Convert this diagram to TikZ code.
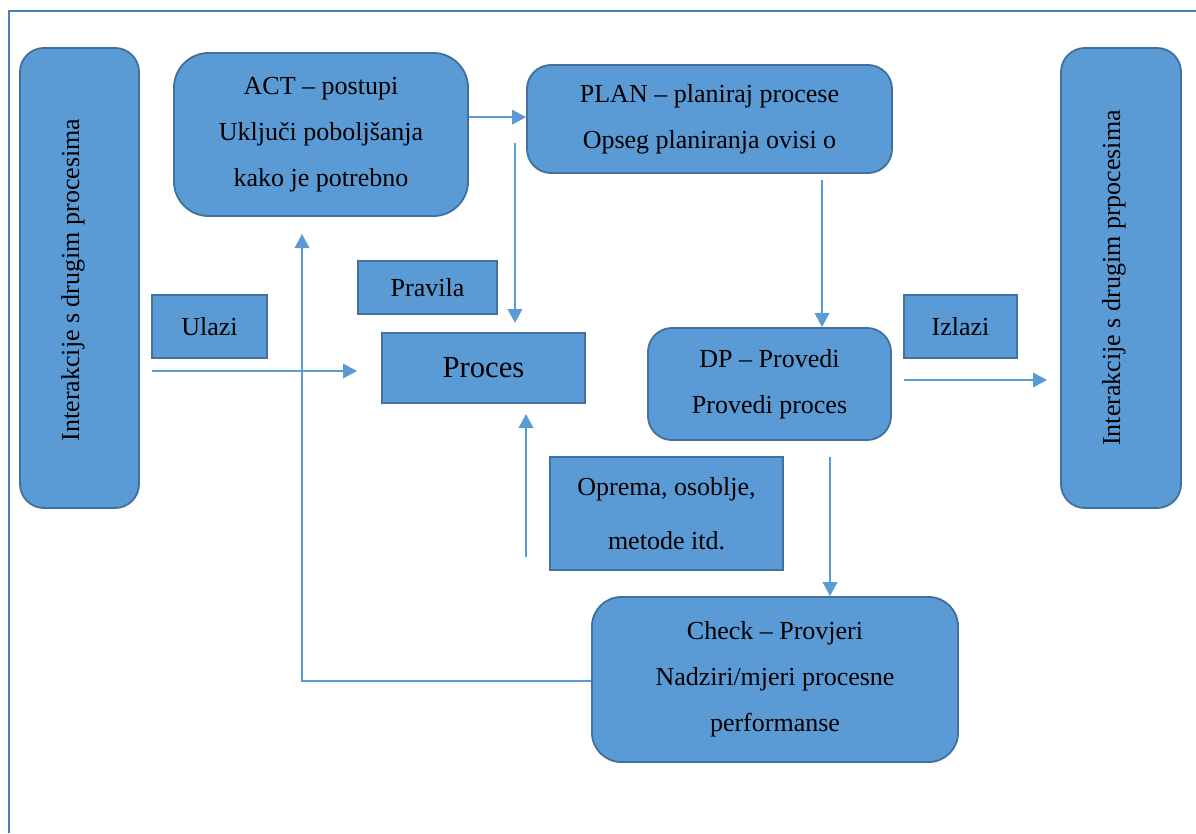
\documentclass[tikz,border=0pt]{standalone}
\usepackage{fontspec}
\setmainfont{Liberation Serif}
\usetikzlibrary{arrows.meta,calc}
\definecolor{boxfill}{HTML}{5B9BD5}
\definecolor{boxedge}{HTML}{41719C}
\definecolor{frameblue}{HTML}{4A7EBB}
\tikzset{
  box/.style={draw=boxedge,fill=boxfill,line width=1.4pt,inner sep=0pt,align=center,
    font=\fontsize{19.5}{34.5}\selectfont},
  rbox/.style={box,rounded corners=18pt},
  vtext/.style={rotate=90,inner sep=0pt,font=\fontsize{19.5}{24}\selectfont},
  arr/.style={draw=boxfill,line width=1.1pt,-{Triangle[width=11pt,length=10.5pt]}},
  link/.style={draw=boxfill,line width=1.1pt},
}
\begin{document}
\begin{tikzpicture}[x=0.75pt,y=-0.75pt]
\useasboundingbox (0,0) rectangle (1196,833);
% frame (top and left edges)
\draw[frameblue,line width=2.2pt] (9,833) -- (9,11) -- (1196,11);

% side boxes
\node[rbox,minimum width=89.25pt,minimum height=345pt] (L) at (79.5,278) {};
\node[vtext] (Ltext) at (73,280) {Interakcije s drugim procesima};
\node[rbox,minimum width=90pt,minimum height=345pt] (R) at (1121,278) {};
\node[vtext] (Rtext) at (1114,278) {Interakcije s drugim prpocesima};

% main boxes
\node[box,rounded corners=26pt,minimum width=220.5pt,minimum height=122.25pt] (ACT) at (321,134.5)
  {ACT -- postupi\\Uključi poboljšanja\\kako je potrebno};
\node[rbox,minimum width=273.75pt,minimum height=81pt] (PLAN) at (709.5,119)
  {PLAN -- planiraj procese\\Opseg planiranja ovisi o};
\node[box,minimum width=104.25pt,minimum height=39.75pt] (Pravila) at (427.5,287.5) {Pravila};
\node[box,minimum width=86.25pt,minimum height=47.25pt] (Ulazi) at (209.5,326.5) {Ulazi};
\node[box,minimum width=152.25pt,minimum height=52.5pt,font=\fontsize{23}{28}\selectfont] (Proces) at (483.5,368) {Proces};
\node[rbox,minimum width=182.25pt,minimum height=84pt] (DP) at (769.5,384)
  {DP -- Provedi\\Provedi proces};
\node[box,minimum width=84.75pt,minimum height=47.25pt] (Izlazi) at (960.5,326.5) {Izlazi};
\node[box,minimum width=174.75pt,minimum height=84.75pt,font=\fontsize{19.5}{40.5}\selectfont] (Oprema) at (666.5,513.5)
  {Oprema, osoblje,\\metode itd.};
\node[box,rounded corners=22pt,minimum width=274.5pt,minimum height=123.75pt] (Check) at (775,679.5)
  {Check -- Provjeri\\Nadziri/mjeri procesne\\performanse};

% free ends
\coordinate (inS) at (152,371);
\coordinate (inE) at (357,371);
\coordinate (fbC) at (302,681);
\coordinate (fbE) at (302,234);
\coordinate (plS) at (515,143);
\coordinate (plE) at (515,323);
\coordinate (pdS) at (822,180);
\coordinate (opS) at (526,557);
\coordinate (opE) at (526,414);
\coordinate (dcS) at (830,457);
\coordinate (outS) at (904,380);
\coordinate (outE) at (1047,380);

% connectors
\draw[arr] (inS) -- (inE);
\draw[arr] (Check.west |- fbC) -- (fbC) -- (fbE);
\draw[arr] ([yshift=13pt]ACT.east) -- ([yshift=13pt]ACT.east -| PLAN.west);
\draw[arr] (plS) -- (plE);
\draw[arr] (pdS) -- (pdS |- DP.north);
\draw[arr] (opS) -- (opE);
\draw[arr] (dcS) -- (dcS |- Check.north);
\draw[arr] (outS) -- (outE);
\end{tikzpicture}
\end{document}
